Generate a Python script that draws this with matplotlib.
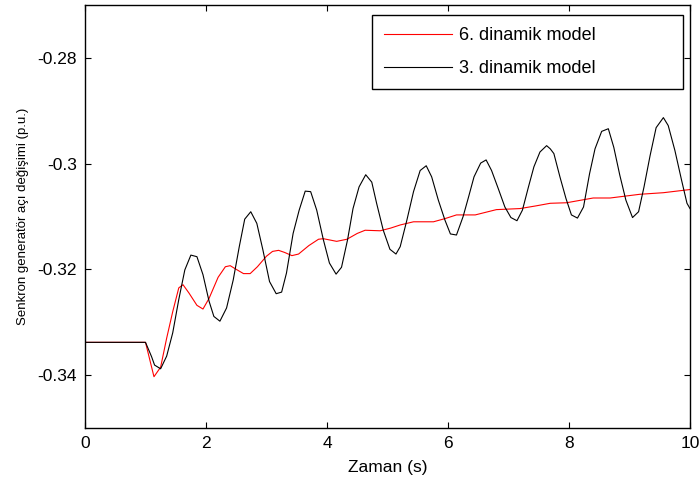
import matplotlib
matplotlib.use('Agg')
import matplotlib.pyplot as plt
from matplotlib.ticker import FormatStrFormatter

plt.rcParams['font.family'] = ['Liberation Sans', 'DejaVu Sans']
plt.rcParams['axes.unicode_minus'] = False

# ------------------------------------------------------------
# data
# ------------------------------------------------------------
t_model6 = [0.0, 1.0, 1.14, 1.25, 1.35, 1.45, 1.55, 1.62, 1.72, 1.85, 1.95,
            2.05, 2.2, 2.32, 2.40, 2.5, 2.62, 2.73, 2.85, 3.0, 3.1, 3.2, 3.3,
            3.42, 3.53, 3.7, 3.86, 3.94, 4.16, 4.33, 4.5, 4.63, 4.88, 5.05,
            5.21, 5.43, 5.76, 5.95, 6.14, 6.45, 6.80, 7.19, 7.45, 7.69, 7.96,
            8.40, 8.68, 9.17, 9.56, 10.0]
y_model6 = [-0.3338, -0.3338, -0.3403, -0.3385, -0.3330, -0.3280, -0.3235,
            -0.3229, -0.3245, -0.3268, -0.3275, -0.3255, -0.3215, -0.3195,
            -0.3193, -0.3200, -0.3208, -0.3208, -0.3195, -0.3175, -0.3166,
            -0.3164, -0.3168, -0.3174, -0.3171, -0.3155, -0.3143, -0.3142,
            -0.3147, -0.3143, -0.3132, -0.3126, -0.3127, -0.3122, -0.3116,
            -0.3110, -0.3110, -0.3104, -0.3097, -0.3097, -0.3087, -0.3085,
            -0.3080, -0.3075, -0.3074, -0.3065, -0.3065, -0.3058, -0.3055,
            -0.3049]

t_model3 = [0.0, 1.0, 1.1, 1.15, 1.25, 1.35, 1.45, 1.55, 1.65, 1.75, 1.85,
            1.95, 2.05, 2.13, 2.23, 2.34, 2.45, 2.55, 2.64, 2.74, 2.84, 2.94,
            3.05, 3.16, 3.25, 3.33, 3.44, 3.54, 3.64, 3.73, 3.83, 3.94, 4.04,
            4.15, 4.24, 4.34, 4.43, 4.53, 4.64, 4.74, 4.82, 4.93, 5.04, 5.14,
            5.21, 5.32, 5.43, 5.54, 5.64, 5.73, 5.84, 5.95, 6.04, 6.14, 6.25,
            6.34, 6.43, 6.54, 6.63, 6.72, 6.83, 6.94, 7.04, 7.14, 7.23, 7.33,
            7.42, 7.52, 7.63, 7.69, 7.75, 7.85, 7.95, 8.04, 8.14, 8.24, 8.34,
            8.43, 8.54, 8.65, 8.74, 8.84, 8.94, 9.05, 9.15, 9.24, 9.34, 9.44,
            9.56, 9.64, 9.75, 9.86, 9.95, 10.0]
y_model3 = [-0.3338, -0.3338, -0.3365, -0.3381, -0.3388, -0.3364, -0.3320,
            -0.3257, -0.3201, -0.3173, -0.3176, -0.3210, -0.3260, -0.3289,
            -0.3298, -0.3273, -0.3220, -0.3157, -0.3105, -0.3091, -0.3113,
            -0.3163, -0.3223, -0.3246, -0.3243, -0.3207, -0.3132, -0.3088,
            -0.3052, -0.3053, -0.3088, -0.3144, -0.3188, -0.3209, -0.3196,
            -0.3144, -0.3085, -0.3044, -0.3021, -0.3035, -0.3075, -0.3126,
            -0.3162, -0.3171, -0.3157, -0.3107, -0.3053, -0.3013, -0.3004,
            -0.3025, -0.3069, -0.3107, -0.3133, -0.3135, -0.3100, -0.3063,
            -0.3025, -0.2999, -0.2993, -0.3013, -0.3047, -0.3082, -0.3102,
            -0.3108, -0.3088, -0.3044, -0.3006, -0.2978, -0.2966, -0.2972,
            -0.2981, -0.3025, -0.3066, -0.3097, -0.3103, -0.3082, -0.3019,
            -0.2972, -0.2939, -0.2934, -0.2969, -0.3022, -0.3069, -0.3102,
            -0.3091, -0.3044, -0.2985, -0.2932, -0.2913, -0.2928, -0.2975,
            -0.3031, -0.3075, -0.3085]

x_ticks = [0, 2, 4, 6, 8, 10]
y_ticks = [-0.34, -0.32, -0.30, -0.28]

# ------------------------------------------------------------
fig = plt.figure(figsize=(7.0, 4.78), dpi=100)
ax = fig.add_axes([85 / 700, 50 / 478, 605 / 700, 423 / 478])

ax.plot(t_model6, y_model6, color='#ff0000', lw=0.8, label='6. dinamik model')
ax.plot(t_model3, y_model3, color='black', lw=0.8, label='3. dinamik model')

ax.set_xlim(0, 10)
ax.set_ylim(-0.35, -0.27)
ax.set_xticks(x_ticks)
ax.set_yticks(y_ticks)
ax.yaxis.set_major_formatter(FormatStrFormatter('%g'))
ax.tick_params(direction='in', top=True, right=True, length=4, width=0.8,
               labelsize=12.5, pad=6)
for sp in ax.spines.values():
    sp.set_linewidth(1.0)

ax.set_xlabel('Zaman (s)', fontsize=12.5, labelpad=6)
ax.set_ylabel('Senkron generatör açı değişimi (p.u.)', fontsize=9.5, labelpad=6)

# legend box spans roughly x 372..683 px, top at 15 px
leg = ax.legend(loc='upper left', bbox_to_anchor=(0.474, 0.976, 0.514, 0.0),
                mode='expand', fontsize=13, handlelength=3.8, handletextpad=0.4,
                labelspacing=0.92, borderpad=0.65, borderaxespad=0,
                fancybox=False, framealpha=1, edgecolor='black')
leg.get_frame().set_linewidth(1.0)

fig.savefig('out.png', dpi=100, facecolor='white')
